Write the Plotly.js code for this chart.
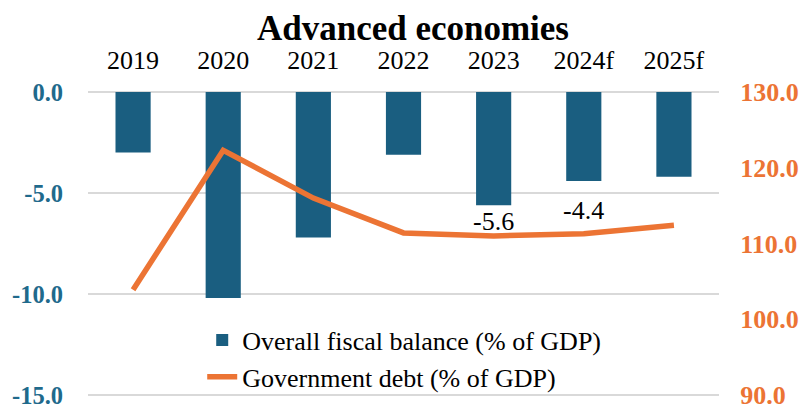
<!DOCTYPE html>
<html>
<head>
<meta charset="utf-8">
<script src="https://cdn.plot.ly/plotly-3.0.1.min.js"></script>
<style>html,body{margin:0;padding:0;background:#fff;}#chart{width:805px;height:406px;}</style>
</head>
<body>
<div id="chart"></div>
<script>
const categories = ["2019", "2020", "2021", "2022", "2023", "2024f", "2025f"];
const fiscalBalance = [-3.0, -10.2, -7.2, -3.1, -5.6, -4.4, -4.2];
const governmentDebt = [103.9, 122.3, 116.0, 111.4, 111.0, 111.3, 112.4];
const labelledCategories = ["2023", "2024f"];
const leftTicks = [0, -5, -10, -15];
const rightTicks = [90, 100, 110, 120, 130];

const serif = "Liberation Serif";
const blue = "#1A5E80";
const orange = "#EC7434";

const labelShift = {"2023": -16, "2024f": -30};
const annotations = categories.map((c, i) => labelledCategories.includes(c) ? {
  x: i, y: fiscalBalance[i], xref: "x", yref: "y",
  text: fiscalBalance[i].toFixed(1), showarrow: false,
  yanchor: "middle", yshift: labelShift[c],
  font: {family: serif, size: 26, color: "#000"}
} : null).filter(a => a);

// small padding so the end gridlines (0 and -15) are drawn; right axis padded proportionally
const pad = 0.1;
const leftRange = [-15 - pad, 0 + pad];
const rightRange = [90 - pad * 40 / 15, 130 + pad * 40 / 15];

const data = [
  {
    type: "bar", x: categories, y: fiscalBalance, name: "Overall fiscal balance (% of GDP)",
    marker: {color: blue}, width: 0.39, yaxis: "y", hoverinfo: "skip"
  },
  {
    type: "scatter", mode: "lines", x: categories, y: governmentDebt, name: "Government debt (% of GDP)",
    line: {color: orange, width: 5.5}, yaxis: "y2", hoverinfo: "skip"
  }
];

const layout = {
  width: 805, height: 406,
  margin: {l: 88, r: 86, t: 90, b: 9, autoexpand: false},
  paper_bgcolor: "#fff", plot_bgcolor: "#fff",
  showlegend: true,
  title: {text: "<b>Advanced economies</b>", font: {family: serif, size: 35, color: "#000"},
          x: 0.513, xref: "container", xanchor: "center", y: 0.932, yref: "container", yanchor: "middle"},
  xaxis: {
    type: "category", side: "top", showgrid: false, zeroline: false, showline: false,
    ticks: "outside", ticklen: 10, tickcolor: "rgba(0,0,0,0)",
    tickfont: {family: serif, size: 26, color: "#000"}
  },
  yaxis: {
    range: leftRange, tickvals: leftTicks, ticktext: leftTicks.map(v => v.toFixed(1)),
    showgrid: true, gridcolor: "#D9D9D9", gridwidth: 2, zeroline: false, showline: false,
    ticks: "outside", ticklen: 19, tickcolor: "rgba(0,0,0,0)", ticklabeloverflow: "allow",
    tickfont: {family: serif, size: 24.5, color: "#1F6A8C", weight: "bold"}
  },
  yaxis2: {
    overlaying: "y", side: "right", range: rightRange, tickvals: rightTicks,
    ticktext: rightTicks.map(v => v.toFixed(1)),
    showgrid: false, zeroline: false, showline: false,
    ticks: "outside", ticklen: 15, tickcolor: "rgba(0,0,0,0)", ticklabeloverflow: "allow",
    tickfont: {family: serif, size: 26, color: orange, weight: "bold"}
  },
  legend: {
    x: 0.181, y: 0.262, xanchor: "left", yanchor: "top", bgcolor: "rgba(0,0,0,0)",
    font: {family: serif, size: 26, color: "#000"}, traceorder: "normal", tracegroupgap: 0
  },
  annotations: annotations
};

Plotly.newPlot("chart", data, layout, {displayModeBar: false, staticPlot: true});
</script>
</body>
</html>
